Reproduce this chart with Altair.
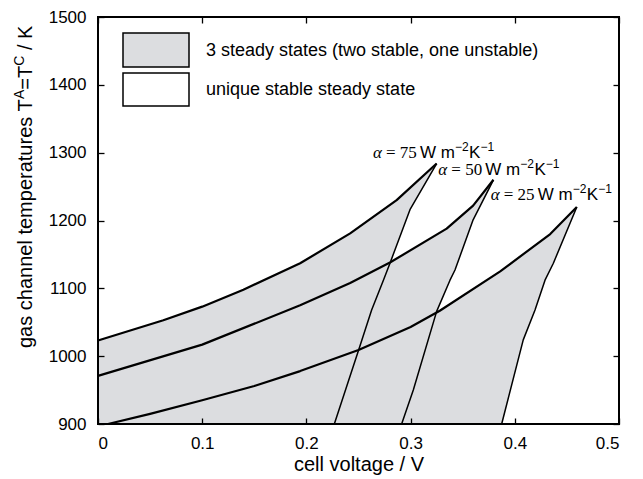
import altair as alt
import pandas as pd

# ---------------- data ----------------
alpha_values = [75, 50, 25]

# upper branch (from low voltage to the tip)
upper75_x = [0.0, 0.0627, 0.1, 0.1395, 0.194, 0.242, 0.2866, 0.325]
upper75_y = [1023, 1053, 1073, 1098, 1137, 1181, 1230, 1284]
upper50_x = [0.0, 0.1, 0.194, 0.242, 0.2802, 0.3346, 0.36, 0.3795]
upper50_y = [971, 1017, 1075, 1108, 1138, 1188, 1222, 1260]
upper25_x = [0.0096, 0.05, 0.1, 0.15, 0.194, 0.25, 0.3, 0.328, 0.386, 0.434, 0.4595]
upper25_y = [900, 915, 935, 956, 978, 1009, 1043, 1067, 1125, 1180, 1220]

# steep branch (from the tip down to the axis)
steep75_x = [0.325, 0.2994, 0.2802, 0.2739, 0.2626, 0.2499, 0.2268]
steep75_y = [1284, 1216, 1137, 1112, 1068, 1008, 900]
steep50_x = [0.3795, 0.360, 0.3426, 0.3378, 0.325, 0.3026, 0.2914]
steep50_y = [1260, 1201, 1127, 1112, 1066, 950, 900]
steep25_x = [0.4595, 0.437, 0.429, 0.4194, 0.4081, 0.3874]
steep25_y = [1220, 1137, 1112, 1068, 1024, 900]

# annotation anchors (start of the alpha symbol, on the baseline)
label_x = [0.2639, 0.3266, 0.3769]
label_y = [1292, 1267, 1230]

legend_labels = ["3 steady states (two stable, one unstable)", "unique stable steady state"]

x_domain = [0, 0.5]
y_domain = [900, 1500]
x_ticks = [0, 0.1, 0.2, 0.3, 0.4, 0.5]
y_ticks = [900, 1000, 1100, 1200, 1300, 1400, 1500]

x_title = "cell voltage / V"
y_title_parts = ["gas channel temperatures T", "A", "=T", "C", " / K"]
unit_parts = ["W m", "\u22122", "K", "\u22121"]

# ---------------- tables ----------------
uppers = {75: (upper75_x, upper75_y), 50: (upper50_x, upper50_y), 25: (upper25_x, upper25_y)}
steeps = {75: (steep75_x, steep75_y), 50: (steep50_x, steep50_y), 25: (steep25_x, steep25_y)}

poly_rows, up_rows, st_rows = [], [], []
for a in alpha_values:
    ux, uy = uppers[a]
    sx, sy = steeps[a]
    for x, y in zip(ux, uy):
        poly_rows.append(dict(alpha=a, idx=len(poly_rows), v=x, T=y))
        up_rows.append(dict(alpha=a, idx=len(up_rows), v=x, T=y))
    for x, y in zip(sx[1:], sy[1:]):
        poly_rows.append(dict(alpha=a, idx=len(poly_rows), v=x, T=y))
    # close along the lower axis back to the start of the upper branch
    poly_rows.append(dict(alpha=a, idx=len(poly_rows), v=ux[0], T=y_domain[0]))
    for x, y in zip(sx, sy):
        st_rows.append(dict(alpha=a, idx=len(st_rows), v=x, T=y))
poly_df = pd.DataFrame(poly_rows)
up_df = pd.DataFrame(up_rows)
st_df = pd.DataFrame(st_rows)
lab_df = pd.DataFrame(dict(v=label_x, T=label_y, alpha=alpha_values,
                           eq=["= %d" % a for a in alpha_values]))

# ---------------- styling ----------------
W, H = 521, 407
GRAY = "#dcdde0"
SANS = "Liberation Sans"
SERIF = "Liberation Serif"

ARIAL = {'a': 556, 'b': 556, 'c': 500, 'e': 556, 'g': 556, 'h': 556, 'l': 222, 'm': 833, 'n': 556,
         'p': 556, 'r': 333, 's': 500, 't': 278, 'u': 556, ' ': 278, 'T': 611, 'A': 667, 'C': 722,
         'K': 667, '=': 584, '/': 278, 'W': 944, '\u2212': 584}


def text_w(s, size):
    return sum(ARIAL.get(ch, 556) for ch in s) / 1000.0 * size


xs = alt.Scale(domain=x_domain, nice=False, zero=False)
ys = alt.Scale(domain=y_domain, nice=False, zero=False)


def tick_axis(orient, values, offset):
    return alt.Axis(orient=orient, offset=offset, values=values, labels=False, domain=False,
                    grid=False, ticks=True, tickSize=6, tickWidth=1.3, tickColor="black",
                    title=None, zindex=1)


fill = alt.Chart(poly_df).mark_line(filled=True, color=GRAY, strokeWidth=0, interpolate="linear").encode(
    x=alt.X("v:Q", scale=xs, axis=alt.Axis(orient="bottom", values=x_ticks, format=".1~f",
                                           ticks=False, tickSize=0, domain=False, grid=False,
                                           labelPadding=11, labelFontSize=17, labelFont=SANS,
                                           labelColor="black", title=x_title, titleFont=SANS,
                                           titleFontSize=20, titleFontWeight="normal",
                                           titleColor="black", titlePadding=3)),
    y=alt.Y("T:Q", scale=ys, axis=alt.Axis(orient="left", values=y_ticks, format="d",
                                           ticks=False, tickSize=0, domain=False, grid=False,
                                           labelPadding=12, labelFontSize=17, labelFont=SANS,
                                           labelColor="black", title=None)),
    detail="alpha:N",
    order="idx:Q",
)

up_lines = alt.Chart(up_df).mark_line(color="black", strokeWidth=2.2, strokeJoin="round").encode(
    x=alt.X("v:Q", scale=xs, axis=tick_axis("top", x_ticks, -H)),
    y=alt.Y("T:Q", scale=ys, axis=tick_axis("right", y_ticks, -W)),
    detail="alpha:N",
    order="idx:Q",
)

st_lines = alt.Chart(st_df).mark_line(color="black", strokeWidth=1.5, strokeJoin="round").encode(
    x=alt.X("v:Q", scale=xs, axis=tick_axis("bottom", x_ticks, -H)),
    y=alt.Y("T:Q", scale=ys, axis=tick_axis("left", y_ticks, -W)),
    detail="alpha:N",
    order="idx:Q",
)

# ---- curve annotations ----
LF = 17          # main label font size
SF = 12          # superscript font size
lab_base = alt.Chart(lab_df).encode(
    x=alt.X("v:Q", scale=xs, axis=None),
    y=alt.Y("T:Q", scale=ys, axis=None),
)
lab_layers = [
    lab_base.mark_text(font=SERIF, fontStyle="italic", fontSize=LF, align="left",
                       baseline="alphabetic", color="black").encode(text=alt.value("\u03b1")),
    lab_base.mark_text(font=SERIF, fontSize=LF, align="left", baseline="alphabetic",
                       color="black", dx=13).encode(text="eq:N"),
]
ux0 = 47.0
for k, part in enumerate(unit_parts):
    sup = k in (1, 3)
    size = SF if sup else LF
    lab_layers.append(
        lab_base.mark_text(font=SANS, fontSize=size, align="left", baseline="alphabetic",
                           color="black", dx=ux0, dy=-7 if sup else 0).encode(text=alt.value(part)))
    ux0 += text_w(part, size) + (0.5 if sup else 0)

frame = alt.Chart(pd.DataFrame({"k": [0]})).mark_rect(fillOpacity=0, stroke="black", strokeWidth=2).encode(
    x=alt.value(0), x2=alt.value(W), y=alt.value(0), y2=alt.value(H))

leg1 = pd.DataFrame({"label": [legend_labels[0]]})
leg2 = pd.DataFrame({"label": [legend_labels[1]]})
leg_box1 = alt.Chart(leg1).mark_rect(fill=GRAY, stroke="black", strokeWidth=1.5).encode(
    x=alt.value(25), x2=alt.value(91), y=alt.value(16), y2=alt.value(50))
leg_box2 = alt.Chart(leg2).mark_rect(fill="white", stroke="black", strokeWidth=1.5).encode(
    x=alt.value(25), x2=alt.value(91), y=alt.value(56), y2=alt.value(89))
leg_txt1 = alt.Chart(leg1).mark_text(font=SANS, fontSize=18, align="left", baseline="middle",
                                      color="black").encode(x=alt.value(108), y=alt.value(34), text="label:N")
leg_txt2 = alt.Chart(leg2).mark_text(font=SANS, fontSize=18, align="left", baseline="middle",
                                      color="black").encode(x=alt.value(108), y=alt.value(73), text="label:N")

# ---- y-axis title built from pieces (superscripts) ----
TF = 20
SUP = 0.7
y0 = 331
x0 = -66
title_layers = []
pos = 0.0
for k, part in enumerate(y_title_parts):
    sup = k in (1, 3)
    size = TF * SUP if sup else TF
    stripped = part.lstrip(" ")
    pos += text_w(part[:len(part) - len(stripped)], size)   # leading spaces are collapsed in SVG
    title_layers.append(
        alt.Chart(pd.DataFrame({"t": [stripped]})).mark_text(
            font=SANS, fontSize=size, angle=270, align="left", baseline="alphabetic",
            color="black").encode(x=alt.value(x0 - (0.42 * TF if sup else 0)),
                                  y=alt.value(y0 - pos), text="t:N"))
    pos += text_w(stripped, size)

chart = alt.layer(
    fill, up_lines, st_lines, frame, *lab_layers,
    leg_box1, leg_box2, leg_txt1, leg_txt2, *title_layers
).resolve_axis(x="independent", y="independent").properties(
    width=W, height=H,
    autosize=alt.AutoSizeParams(type="none"),
    padding={"left": 90, "top": 9, "right": 16, "bottom": 55},
).configure_view(stroke=None)

chart.save("out.html", embed_options={"renderer": "svg", "actions": False})
